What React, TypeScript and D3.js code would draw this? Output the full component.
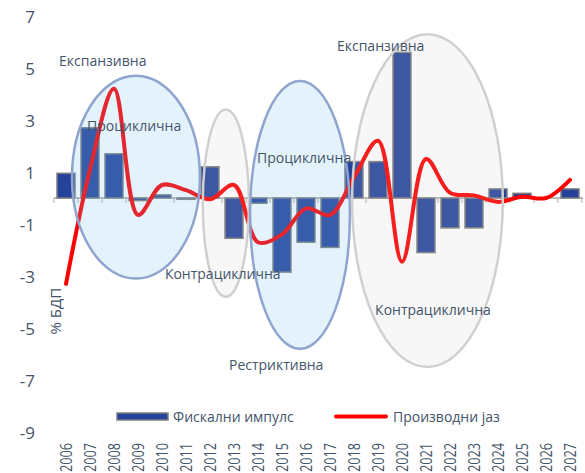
import React from "react";
import * as d3 from "d3";

const years = ["2006","2007","2008","2009","2010","2011","2012","2013","2014","2015","2016","2017","2018","2019","2020","2021","2022","2023","2024","2025","2026","2027"];
const fiscalImpulse = [0.95, 2.7, 1.7, -0.1, 0.12, -0.05, 1.2, -1.55, -0.2, -2.85, -1.7, -1.9, 1.4, 1.4, 5.6, -2.1, -1.15, -1.15, 0.35, 0.18, 0.0, 0.35];
const outputGap = [-3.3, 1.1, 4.2, -0.65, 0.5, 0.3, -0.05, 0.5, -1.7, -1.4, -0.4, -0.65, 0.8, 2.2, -2.45, 1.5, 0.2, 0.1, -0.15, 0.05, 0.0, 0.7];
const yTicks = [7, 5, 3, 1, -1, -3, -5, -7, -9];
const seriesNames = ["Фискални импулс", "Производни јаз"];
const yTitle = "% БДП";

// ellipse extents in category-index units (0 = left edge of 2006 band) and value units
type Ell = { left: number; right: number; top: number; bottom: number; kind: "blue" | "grey" };
const ellipses: Ell[] = [
  { left: 0.75, right: 6.08, top: 4.7, bottom: -3.1, kind: "blue" },
  { left: 6.2, right: 8.12, top: 3.4, bottom: -3.8, kind: "grey" },
  { left: 8.17, right: 12.33, top: 4.5, bottom: -5.8, kind: "blue" },
  { left: 12.42, right: 18.7, top: 6.3, bottom: -6.5, kind: "grey" },
];

type Ann = { text: string; pos: number; value: number };
const annotations: Ann[] = [
  { text: "Експанзивна", pos: 0.21, value: 5.3 },
  { text: "Процикличнa", pos: 1.38, value: 2.8 },
  { text: "Контрациклична", pos: 4.62, value: -2.9 },
  { text: "Процикличнa", pos: 8.46, value: 1.55 },
  { text: "Рестриктивна", pos: 7.29, value: -6.4 },
  { text: "Експанзивна", pos: 11.79, value: 5.85 },
  { text: "Контрациклична", pos: 13.38, value: -4.3 },
];

const W = 585, H = 473;
const FONT = "'Open Sans', 'Noto Sans', sans-serif";
const TXT = "#44546A";

export default function App() {
  const x = d3.scaleBand<string>().domain(years).range([54, 582]).paddingInner(0.25).paddingOuter(0.125);
  const xi = d3.scaleLinear().domain([0, years.length]).range([54, 582]);
  const y = d3.scaleLinear().domain([-9, 7]).range([432, 16]);
  const bw = x.bandwidth();
  const cx = (yr: string) => (x(yr) as number) + bw / 2;

  const line = d3
    .line<number>()
    .x((_, i) => cx(years[i]))
    .y((d) => y(d))
    .curve(d3.curveCatmullRom.alpha(0.5));

  const barColor = "#26439C";

  return (
    <svg width={W} height={H} style={{ position: "fixed", left: 0, top: 0, background: "#fff" }} fontFamily={FONT}>
      <rect width={W} height={H} fill="#fff" />
      {/* zero axis */}
      <line x1={xi(0)} x2={xi(years.length) + 1} y1={y(0)} y2={y(0)} stroke="#A6A6A6" strokeWidth={1.5} />
      {d3.range(years.length + 1).map((i) => (
        <line key={"t" + i} x1={xi(i)} x2={xi(i)} y1={y(0)} y2={y(0) + 5} stroke="#A6A6A6" strokeWidth={1} />
      ))}
      {/* bars */}
      {fiscalImpulse.map((v, i) => (
        <rect
          key={"b" + i}
          x={x(years[i])}
          width={bw}
          y={Math.min(y(v), y(0))}
          height={Math.abs(y(v) - y(0))}
          fill={barColor}
          stroke="#7F7F7F"
          strokeWidth={1.5}
        />
      ))}
      {/* line */}
      <path d={line(outputGap) || ""} fill="none" stroke="#FF0000" strokeWidth={4} strokeLinecap="round" />
      {/* ellipses */}
      {ellipses.map((e, i) => {
        const x0 = xi(e.left);
        const x1 = xi(e.right);
        return (
          <ellipse
            key={"e" + i}
            cx={(x0 + x1) / 2}
            cy={(y(e.top) + y(e.bottom)) / 2}
            rx={(x1 - x0) / 2}
            ry={(y(e.bottom) - y(e.top)) / 2}
            fill={e.kind === "blue" ? "rgba(120,195,235,0.2)" : "rgba(200,200,200,0.15)"}
            stroke={e.kind === "blue" ? "#8FA5CF" : "#D0D0D0"}
            strokeWidth={2.5}
          />
        );
      })}
      {/* annotations */}
      {annotations.map((a, i) => (
        <text key={"a" + i} x={xi(a.pos)} y={y(a.value)} dominantBaseline="central" fontSize={14} fill={TXT}>
          {a.text}
        </text>
      ))}
      {/* y ticks */}
      {yTicks.map((t) => (
        <text key={"y" + t} x={35} y={y(t)} textAnchor="end" dominantBaseline="central" fontSize={17} fill={TXT}>
          {t}
        </text>
      ))}
      {/* y title */}
      <text transform={`translate(55,${y(-4.35)}) rotate(-90)`} textAnchor="middle" dominantBaseline="central" fontSize={15} fill={TXT}>
        {yTitle}
      </text>
      {/* x labels */}
      {years.map((yr) => (
        <text
          key={"x" + yr}
          transform={`translate(${cx(yr)},443) rotate(-90)`}
          textAnchor="end"
          dominantBaseline="central"
          fontSize={16}
          textLength={29}
          lengthAdjust="spacingAndGlyphs"
          fill={TXT}
        >
          {yr}
        </text>
      ))}
      {/* legend */}
      <rect x={117} y={413} width={51} height={7} fill={barColor} stroke="#7F7F7F" strokeWidth={1.5} />
      <text x={173} y={416.5} dominantBaseline="central" fontSize={14} fill={TXT}>{seriesNames[0]}</text>
      <line x1={336} x2={386} y1={416.5} y2={416.5} stroke="#FF0000" strokeWidth={4} strokeLinecap="round" />
      <text x={393} y={416.5} dominantBaseline="central" fontSize={14} fill={TXT}>{seriesNames[1]}</text>
    </svg>
  );
}
